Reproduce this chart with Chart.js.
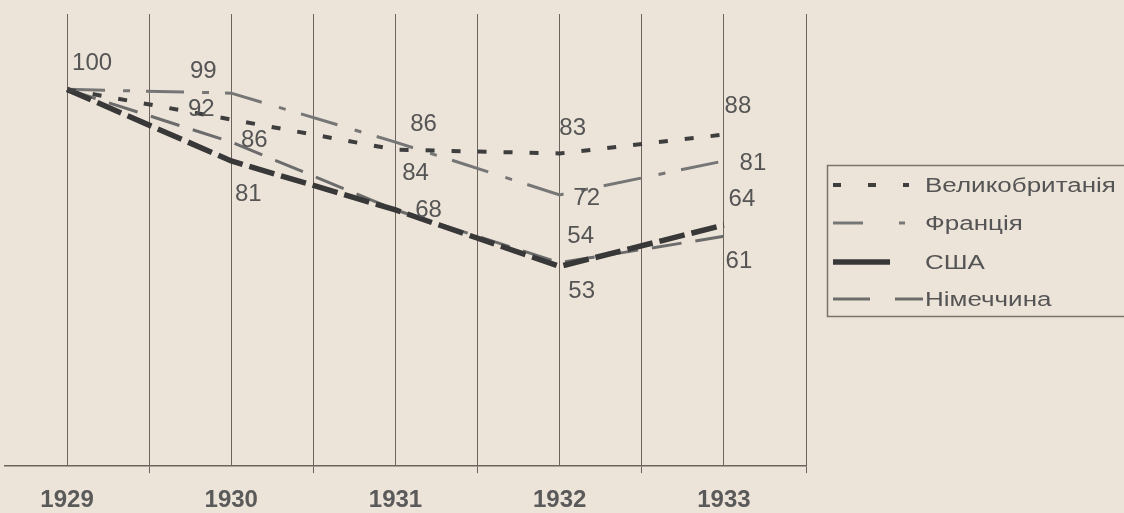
<!DOCTYPE html>
<html>
<head>
<meta charset="utf-8">
<script src="https://cdn.jsdelivr.net/npm/chart.js@4/dist/chart.umd.min.js"></script>
<style>
  html, body { margin: 0; padding: 0; background: #ede4d9; }
  #wrap { width: 1124px; height: 513px; position: relative; }
</style>
</head>
<body>
<div id="wrap"><canvas id="myChart"></canvas></div>
<script>
const years = ['1929', '1930', '1931', '1932', '1933'];
const countries = ['Великобританія', 'Франція', 'США', 'Німеччина'];
const britain = [100, 92, 84, 83, 88];
const france = [100, 99, 86, 72, 81];
const usa = [100, 81, 68, 53, 64];
const germany = [100, 86, 68, 54, 61];

// label offsets from each point (null = label not shown)
const labelOffsets = [
  [null, [-30, -10], [20, 24], [13, -25], [14, -28]],
  [null, [-28, -22], [28, -18], [27, 3], [29, 2]],
  [[25, -26], [17, 33], [33, 0], [22, 25], [18, -26]],
  [null, [23, -2], null, [21, -26], [15, 25]]
];

const lineStyles = [
  { color: '#3e3e3e', width: 4, dash: [9, 17] },
  { color: '#767676', width: 3, dash: [38, 18, 7, 16] },
  { color: '#383838', width: 5.5, dash: [26, 7] },
  { color: '#6c6c6c', width: 3, dash: [30, 14] }
];

// legend sample dashes (legend draws them a bit differently from the lines)
const legendDash = [
  [8, 27],
  [30, 36, 6, 100],
  [],
  [37, 25, 28, 100]
];
const legendLen = [76, 72, 57, 90];

const seriesList = [britain, france, usa, germany];
const gridColor = '#6a645c';
const textColor = '#555';

const bgPlugin = {
  id: 'bg',
  beforeDraw(chart) {
    const ctx = chart.ctx;
    ctx.save();
    ctx.fillStyle = '#ede4d9';
    ctx.fillRect(0, 0, chart.width, chart.height);
    ctx.restore();
  }
};

const valueLabels = {
  id: 'valueLabels',
  afterDatasetsDraw(chart) {
    const ctx = chart.ctx;
    ctx.save();
    ctx.font = '24px "Liberation Sans", Arial, sans-serif';
    ctx.fillStyle = textColor;
    ctx.textAlign = 'center';
    ctx.textBaseline = 'middle';
    chart.data.datasets.forEach((ds, di) => {
      const meta = chart.getDatasetMeta(di);
      meta.data.forEach((pt, i) => {
        const off = labelOffsets[di][i];
        if (!off) return;
        ctx.fillText(String(seriesList[di][i]), pt.x + off[0], pt.y + off[1]);
      });
    });
    ctx.restore();
  }
};

const boxLegend = {
  id: 'boxLegend',
  afterDraw(chart) {
    const ctx = chart.ctx;
    ctx.save();
    ctx.strokeStyle = '#7a746c';
    ctx.lineWidth = 1.5;
    ctx.strokeRect(827.5, 165.5, 320, 151);
    const rows = [185, 223, 262, 299];
    chart.data.datasets.forEach((ds, i) => {
      const y = rows[i];
      ctx.beginPath();
      ctx.setLineDash(legendDash[i]);
      ctx.strokeStyle = lineStyles[i].color;
      ctx.lineWidth = lineStyles[i].width;
      ctx.moveTo(833, y);
      ctx.lineTo(833 + legendLen[i], y);
      ctx.stroke();
      ctx.setLineDash([]);
      ctx.save();
      ctx.translate(925, y);
      ctx.scale(1.3, 1);
      ctx.font = '20px "Liberation Sans", Arial, sans-serif';
      ctx.fillStyle = textColor;
      ctx.textBaseline = 'middle';
      ctx.fillText(ds.label, 0, 1);
      ctx.restore();
    });
    ctx.restore();
  }
};

new Chart(document.getElementById('myChart'), {
  type: 'line',
  data: {
    datasets: seriesList.map((values, i) => ({
      label: countries[i],
      data: values.map((v, j) => ({ x: j, y: v })),
      borderColor: lineStyles[i].color,
      borderWidth: lineStyles[i].width,
      borderDash: lineStyles[i].dash,
      borderCapStyle: 'butt',
      pointRadius: 0,
      tension: 0,
      fill: false
    }))
  },
  options: {
    responsive: true,
    maintainAspectRatio: false,
    animation: false,
    layout: { padding: { left: 5, right: 318, top: 14, bottom: -15 } },
    plugins: {
      legend: { display: false },
      tooltip: { enabled: false }
    },
    scales: {
      x: {
        type: 'linear',
        min: -0.378,
        max: 4.5,
        afterBuildTicks(scale) {
          const t = [];
          for (let v = 0; v <= 4.5; v += 0.5) t.push({ value: v });
          scale.ticks = t;
        },
        grid: {
          color: gridColor,
          lineWidth: 1,
          tickLength: 7,
          tickColor: ctx => (ctx.tick && ctx.tick.value % 1 !== 0) ? gridColor : 'rgba(0,0,0,0)'
        },
        border: { color: gridColor, width: 1.5 },
        ticks: {
          autoSkip: false,
          maxRotation: 0,
          padding: 13,
          color: '#5a5a5a',
          font: { family: '"Liberation Sans", Arial, sans-serif', size: 24, weight: 'bold' },
          callback: v => (v % 1 === 0 ? years[v] : '')
        }
      },
      y: {
        display: false,
        min: 0,
        max: 120
      }
    }
  },
  plugins: [bgPlugin, valueLabels, boxLegend]
});
</script>
</body>
</html>
